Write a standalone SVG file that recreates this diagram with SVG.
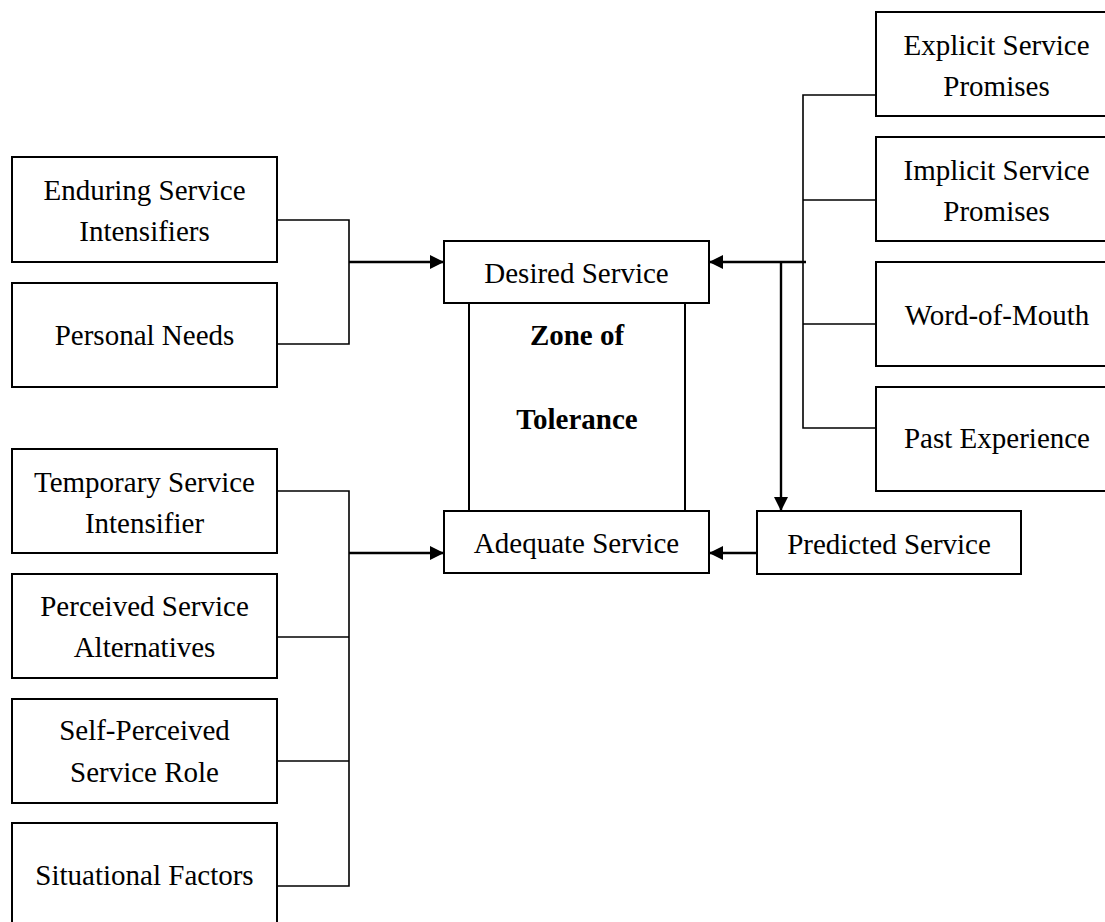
<svg xmlns="http://www.w3.org/2000/svg" width="1105" height="922" viewBox="0 0 1105 922">
<style>
  .box { fill: #fff; stroke: #000; stroke-width: 2; }
  .t { font-family: "Liberation Serif", "Times New Roman", serif; font-size: 29px; fill: #000; text-anchor: middle; }
  .b { font-weight: bold; }
  .conn { fill: none; stroke: #000; stroke-width: 1.6; }
  .arr { fill: none; stroke: #000; stroke-width: 2.4; marker-end: url(#ah); }
</style>
<defs>
  <marker id="ah" viewBox="0 0 10 10" refX="10" refY="5" markerWidth="15" markerHeight="14" markerUnits="userSpaceOnUse" orient="auto">
    <path d="M0,0 L10,5 L0,10 z" fill="#000"/>
  </marker>
</defs>
<rect width="1105" height="922" fill="#fff"/>

<g id="connectors">
  <polyline class="conn" points="277,220 349,220 349,344 277,344"/>
  <line class="arr" x1="349" y1="262" x2="444" y2="262"/>
  <polyline class="conn" points="277,491 349,491 349,886 277,886"/>
  <line class="conn" x1="277" y1="637" x2="349" y2="637"/>
  <line class="conn" x1="277" y1="761" x2="349" y2="761"/>
  <line class="arr" x1="349" y1="553" x2="444" y2="553"/>
  <polyline class="conn" points="876,95 803,95 803,428 876,428"/>
  <line class="conn" x1="803" y1="200" x2="876" y2="200"/>
  <line class="conn" x1="803" y1="324" x2="876" y2="324"/>
  <line class="arr" x1="806" y1="262" x2="709" y2="262"/>
  <line class="arr" x1="781" y1="262" x2="781" y2="511"/>
  <line class="arr" x1="757" y1="553" x2="709" y2="553"/>
</g>

<g id="zone">
  <rect class="box" x="469" y="303" width="216" height="208"/>
  <text class="t b" x="577" y="345">Zone of</text>
  <text class="t b" x="577" y="429">Tolerance</text>
</g>
<g id="desired">
  <rect class="box" x="444" y="241" width="265" height="62"/>
  <text class="t" x="576.5" y="283">Desired Service</text>
</g>
<g id="adequate">
  <rect class="box" x="444" y="511" width="265" height="62"/>
  <text class="t" x="576.5" y="553">Adequate Service</text>
</g>
<g id="predicted">
  <rect class="box" x="757" y="511" width="264" height="63"/>
  <text class="t" x="889" y="554">Predicted Service</text>
</g>

<g id="enduring">
  <rect class="box" x="12" y="157" width="265" height="105"/>
  <text class="t" x="144.5" y="200">Enduring Service</text>
  <text class="t" x="144.5" y="241">Intensifiers</text>
</g>
<g id="personal">
  <rect class="box" x="12" y="283" width="265" height="104"/>
  <text class="t" x="144.5" y="345">Personal Needs</text>
</g>
<g id="temporary">
  <rect class="box" x="12" y="449" width="265" height="104"/>
  <text class="t" x="144.5" y="492">Temporary Service</text>
  <text class="t" x="144.5" y="533">Intensifier</text>
</g>
<g id="perceived">
  <rect class="box" x="12" y="574" width="265" height="104"/>
  <text class="t" x="144.5" y="616">Perceived Service</text>
  <text class="t" x="144.5" y="657">Alternatives</text>
</g>
<g id="selfperceived">
  <rect class="box" x="12" y="699" width="265" height="104"/>
  <text class="t" x="144.5" y="740">Self-Perceived</text>
  <text class="t" x="144.5" y="782">Service Role</text>
</g>
<g id="situational">
  <rect class="box" x="12" y="823" width="265" height="104"/>
  <text class="t" x="144.5" y="885">Situational Factors</text>
</g>

<g id="explicit">
  <rect class="box" x="876" y="12" width="241" height="104"/>
  <text class="t" x="996.5" y="55">Explicit Service</text>
  <text class="t" x="996.5" y="96">Promises</text>
</g>
<g id="implicit">
  <rect class="box" x="876" y="137" width="241" height="104"/>
  <text class="t" x="996.5" y="180">Implicit Service</text>
  <text class="t" x="996.5" y="221">Promises</text>
</g>
<g id="wordofmouth">
  <rect class="box" x="876" y="262" width="241" height="104"/>
  <text class="t" x="997" y="325">Word-of-Mouth</text>
</g>
<g id="past">
  <rect class="box" x="876" y="387" width="241" height="104"/>
  <text class="t" x="997" y="448">Past Experience</text>
</g>
</svg>
